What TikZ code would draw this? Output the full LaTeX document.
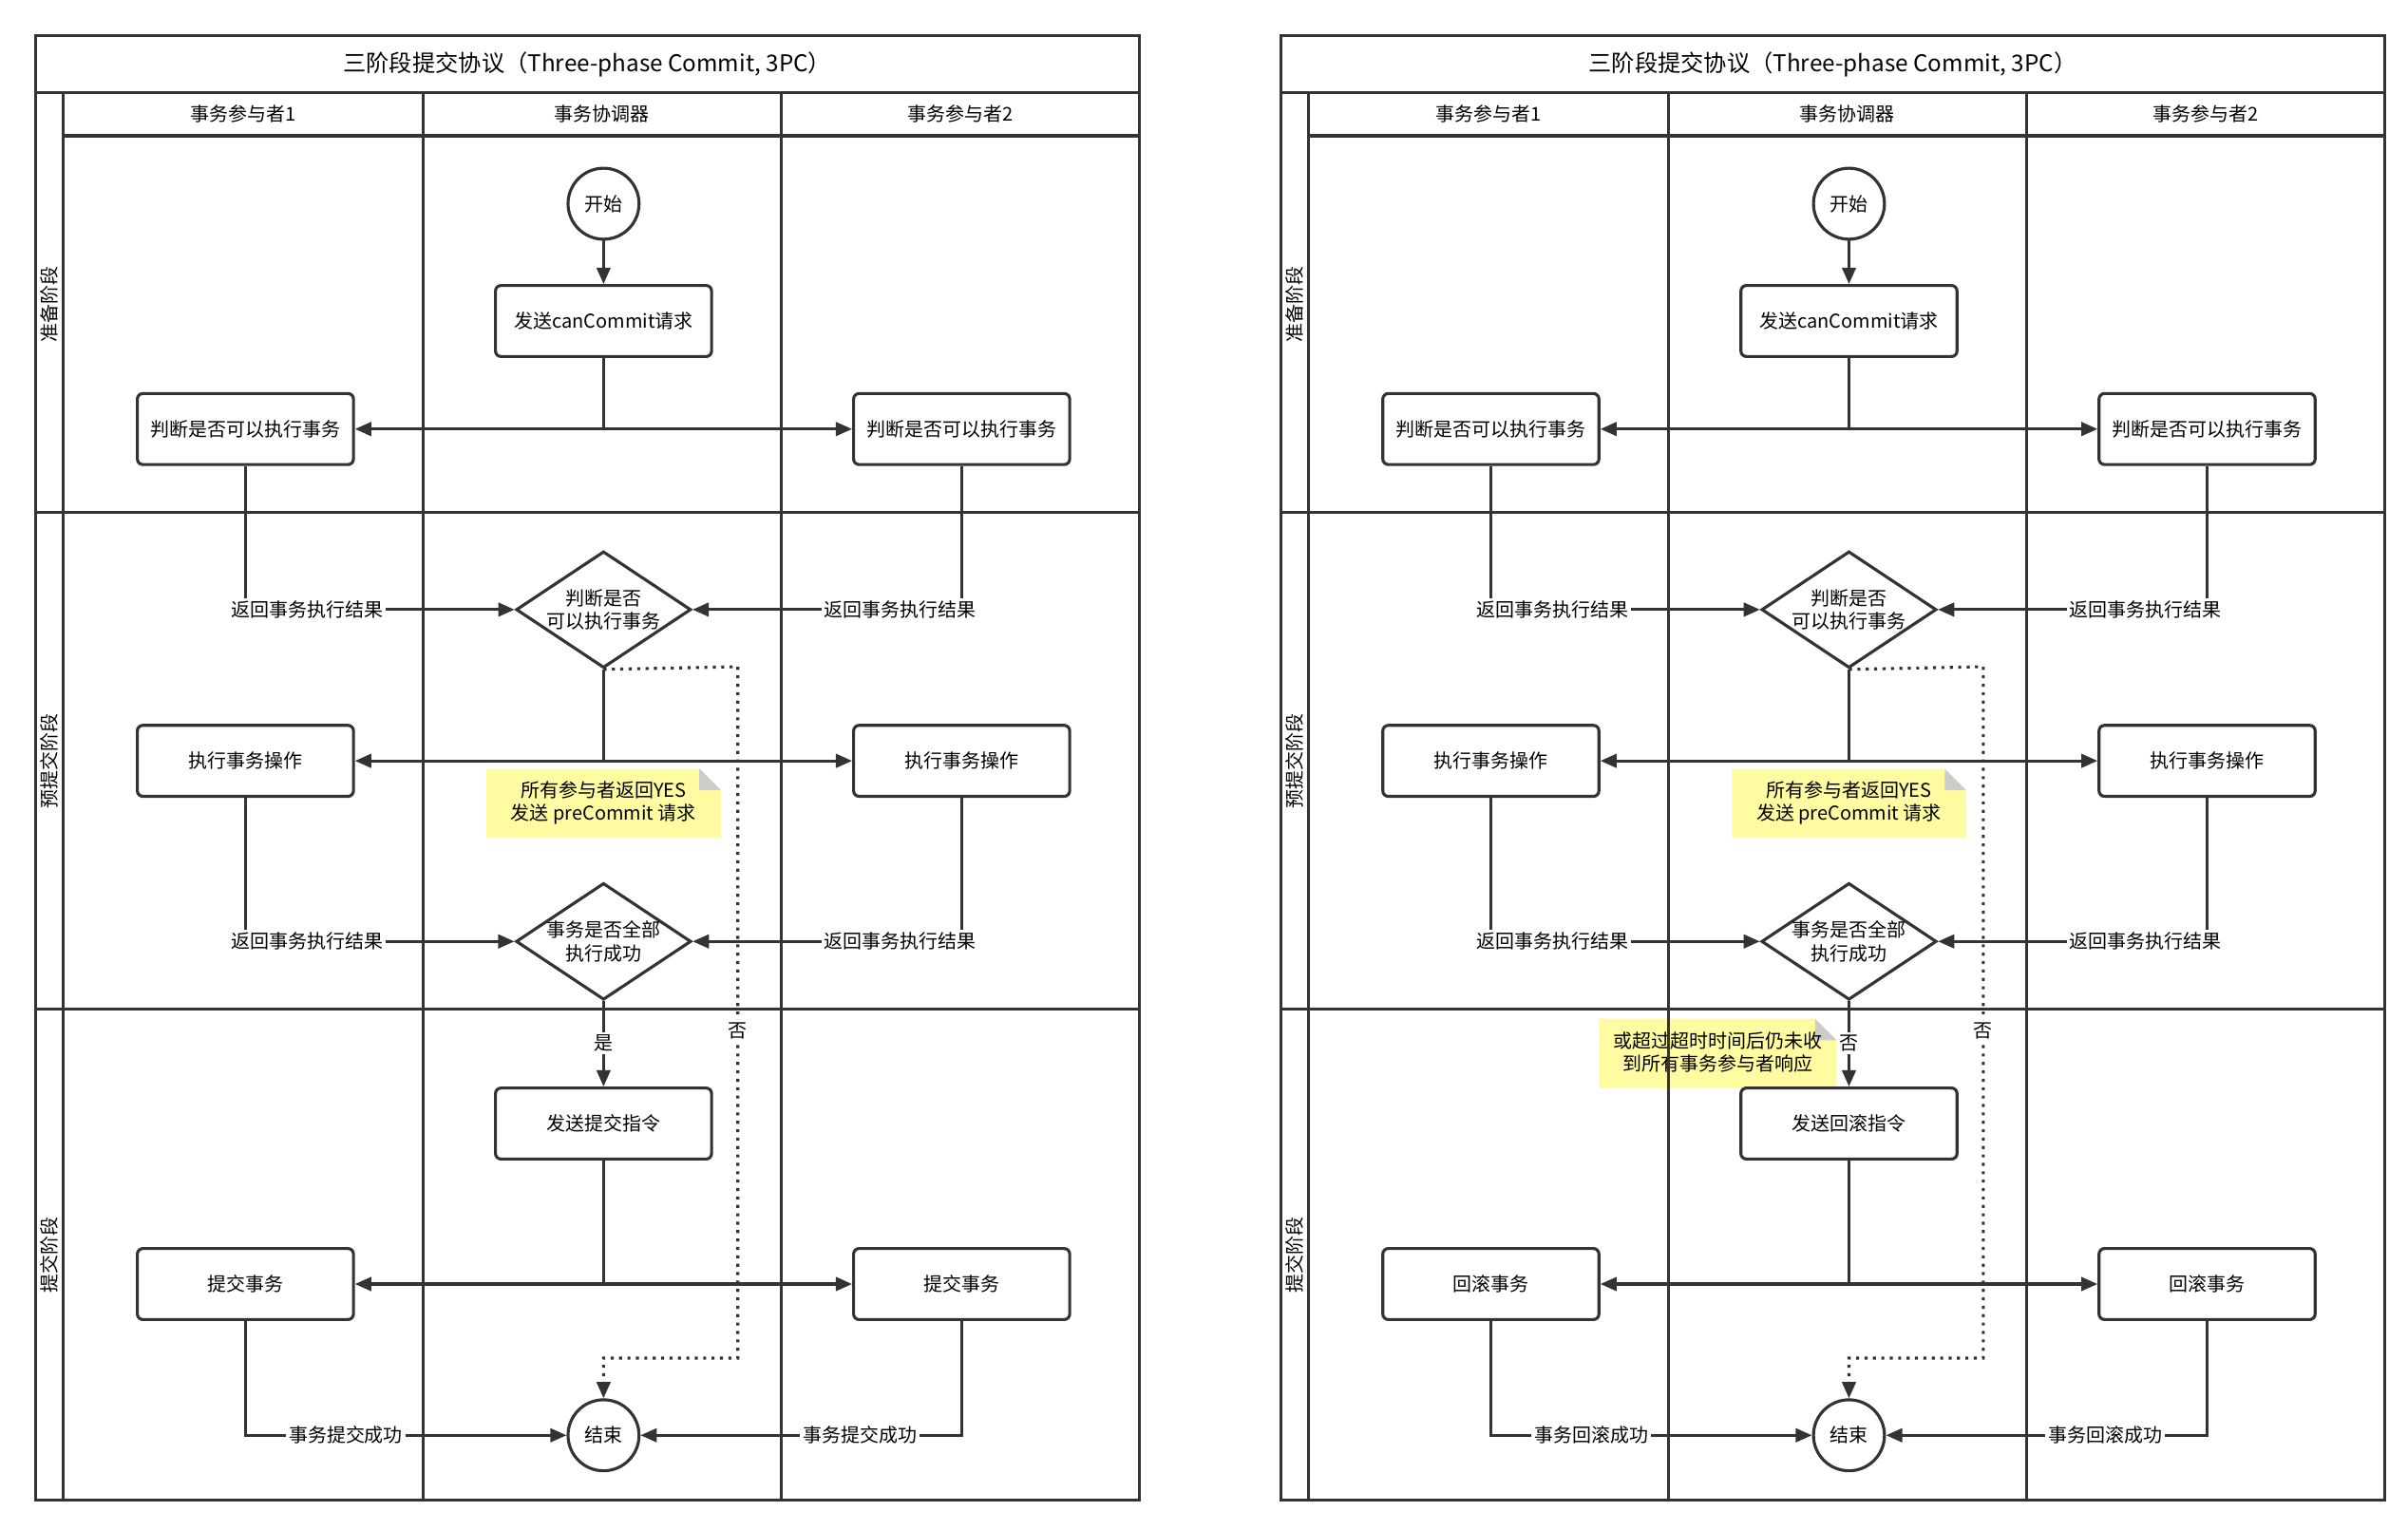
\documentclass[tikz,border=0pt]{standalone}
\usepackage{fontspec}
\setmainfont{Noto Sans CJK SC}
\usetikzlibrary{arrows.meta,shapes.geometric}
\definecolor{ln}{HTML}{333333}
\definecolor{notey}{HTML}{FFFBA0}
\tikzset{
 lane/.style={draw=ln,line width=1.1pt},
 box/.style={draw=ln,line width=1.1pt,rounded corners=2pt,minimum width=2.8cm,minimum height=0.92cm,font=\fontsize{7}{8.5}\selectfont,fill=white},
 circ/.style={draw=ln,line width=1.1pt,circle,minimum size=0.92cm,inner sep=0pt,font=\fontsize{7}{8.5}\selectfont,fill=white},
 dia/.style={draw=ln,line width=1.1pt,diamond,aspect=1.5,minimum width=2.2cm,minimum height=1.48cm,inner sep=0pt,align=center,font=\fontsize{7}{8.5}\selectfont,fill=white},
 arr/.style={draw=ln,line width=1.1pt,-{Triangle[length=6pt,width=5pt]}},
 lbl/.style={fill=white,inner sep=1pt,font=\fontsize{7}{8.5}\selectfont},
 hdr/.style={font=\fontsize{7}{8.5}\selectfont},
 ttl/.style={font=\fontsize{8.5}{10}\selectfont},
 note/.style={align=center,font=\fontsize{7}{8.5}\selectfont},
}
\newcommand\mylanes[7]{%
\begin{scope}[xshift=#2]
\draw[lane] (23,23) rectangle (738,972);
\draw[lane] (23,60)--(738,60) (41,60)--(41,972) (41,88)--(738,88)
 (274,60)--(274,972) (506,60)--(506,972) (23,332)--(738,332) (23,654)--(738,654);
\node[ttl] (#1title) at (380.5,41.5) {三阶段提交协议（Three-phase Commit, 3PC）};
\node[hdr] (#1h1) at (157.5,74) {事务参与者1};
\node[hdr] (#1h2) at (390,74) {事务协调器};
\node[hdr] (#1h3) at (622,74) {事务参与者2};
\node[hdr,rotate=90] (#1p1) at (32,197) {准备阶段};
\node[hdr,rotate=90] (#1p2) at (32,493) {预提交阶段};
\node[hdr,rotate=90] (#1p3) at (32,813) {提交阶段};
\node[circ] (#1start) at (391,132) {开始};
\node[box] (#1send) at (391,208) {发送canCommit请求};
\node[box] (#1j1) at (159,278) {判断是否可以执行事务};
\node[box] (#1j2) at (623,278) {判断是否可以执行事务};
\node[dia] (#1d1) at (391,395) {判断是否\\可以执行事务};
\node[box] (#1e1) at (159,493) {执行事务操作};
\node[box] (#1e2) at (623,493) {执行事务操作};
\node[dia] (#1d2) at (391,610) {事务是否全部\\执行成功};
\node[box] (#1c) at (391,728) {#3};
\node[box] (#1m1) at (159,832) {#4};
\node[box] (#1m2) at (623,832) {#4};
\node[circ] (#1end) at (391,930) {结束};
\draw[arr] (#1start) -- (#1send);
\draw[arr] (#1send.south) |- (#1j1.east);
\draw[arr] (#1send.south) |- (#1j2.west);
\draw[arr] (#1j1.south) |- (#1d1.west);
\draw[arr] (#1j2.south) |- (#1d1.east);
\draw[arr] (#1d1.south) |- (#1e1.east);
\draw[arr] (#1d1.south) |- (#1e2.west);
\draw[arr] (#1e1.south) |- (#1d2.west);
\draw[arr] (#1e2.south) |- (#1d2.east);
\draw[arr] (#1d2.south) -- (#1c.north);
\draw[arr] (#1c.south) |- (#1m1.east);
\draw[arr] (#1c.south) |- (#1m2.west);
\draw[arr] (#1m1.south) |- (#1end.west);
\draw[arr] (#1m2.south) |- (#1end.east);
\coordinate (#1q1) at (478,432);
\coordinate (#1q2) at (478,880);
\draw[arr,dotted] (#1d1.south) -- (#1q1) -- (#1q2) -| (#1end.north);
\node[lbl] (#1l1) at (199,395) {返回事务执行结果};
\node[lbl] (#1l2) at (583,395) {返回事务执行结果};
\node[lbl] (#1l3) at (199,610) {返回事务执行结果};
\node[lbl] (#1l4) at (583,610) {返回事务执行结果};
\node[lbl] (#1l5) at (391,676) {#6};
\node[lbl] (#1l6) at (478,668) {否};
\node[lbl] (#1l7) at (224,930) {#5};
\node[lbl] (#1l8) at (557,930) {#5};
\end{scope}}
\begin{document}
\begin{tikzpicture}[x=0.02cm,y=-0.02cm]
\useasboundingbox (0,0) rectangle (1560,991);
% notes
\fill[notey] (315,498) -- (453,498) -- (467,512) -- (467,543) -- (315,543) -- cycle;
\fill[gray!40] (453,498) -- (467,512) -- (453,512) -- cycle;
\node[note] (Lnote) at (391,520) {所有参与者返回YES\\发送 preCommit 请求};
\begin{scope}[xshift=16.14cm]
\fill[notey] (315,498) -- (453,498) -- (467,512) -- (467,543) -- (315,543) -- cycle;
\fill[gray!40] (453,498) -- (467,512) -- (453,512) -- cycle;
\node[note] (Rnote) at (391,520) {所有参与者返回YES\\发送 preCommit 请求};
\fill[notey] (229,660) -- (369,660) -- (383,674) -- (383,705) -- (229,705) -- cycle;
\fill[gray!40] (369,660) -- (383,674) -- (369,674) -- cycle;
\node[note] (Rnote2) at (306,682) {或超过超时时间后仍未收\\到所有事务参与者响应};
\end{scope}
\mylanes{L}{0cm}{发送提交指令}{提交事务}{事务提交成功}{是}{}
\mylanes{R}{16.14cm}{发送回滚指令}{回滚事务}{事务回滚成功}{否}{}
\end{tikzpicture}
\end{document}
